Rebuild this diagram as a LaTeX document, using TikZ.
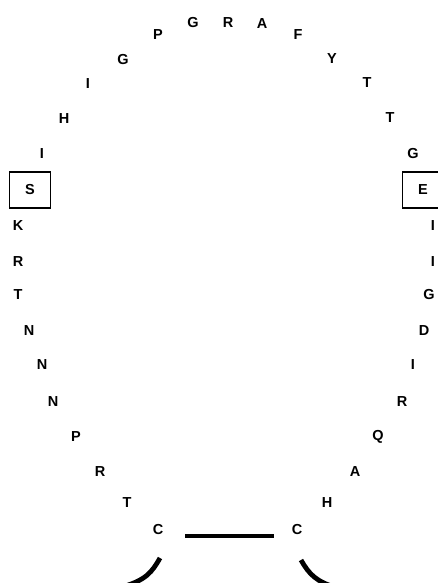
\documentclass[tikz,border=0pt]{standalone}
\usepackage{fontspec}
\setmainfont{Liberation Sans}
\begin{document}
\begin{tikzpicture}[x=1pt, y=-1pt,
    res/.style={font=\bfseries\fontsize{14.5}{14.5}\selectfont, inner sep=2pt},
    boxres/.style={res, draw, line width=1.2pt, minimum width=41pt, minimum height=36pt},
    bond/.style={line width=4.8pt}]
    % --- 画布大小 ---
    \useasboundingbox (0,0) rectangle (438,583);
    \clip (0,0) rectangle (438,583);

    % --- 环上的残基 (从左下 C 开始, 顺时针) ---
    \foreach \aa/\x/\y/\st [count=\i] in {
        C/158/530/res, T/127/503/res, R/100/472/res, P/76/437/res,
        N/53/402/res, N/42/365/res, N/29/331/res, T/18/295/res,
        R/18/262/res, K/18/226/res, S/30/190/boxres, I/42/154/res,
        H/64/119/res, I/88/84/res, G/123/60/res, P/158/35/res,
        G/193/23/res, R/228/23/res, A/262/24/res, F/298/35/res,
        Y/332/59/res, T/367/83/res, T/390/118/res, G/413/154/res,
        E/423/190/boxres, I/433/226/res, I/433/262/res, G/429/295/res,
        D/424/331/res, I/413/365/res, R/402/402/res, Q/378/437/res,
        A/355/472/res, H/327/503/res, C/297/530/res}
        \node[\st] (r\i) at (\x,\y) {\aa};

    % --- 二硫键 ---
    \draw[bond] ([shift={(27,6)}]r1.center) -- ([shift={(-23,6)}]r35.center);

    % --- 向下延伸的两条链 ---
    \coordinate (tailL) at (118,588);
    \coordinate (tailR) at (338,588);
    \draw[bond] ([shift={(2,28)}]r1.center) .. controls (152,572) and (146,581) .. (tailL);
    \draw[bond] ([shift={(4,30)}]r35.center) .. controls (309,574) and (316,582) .. (tailR);
\end{tikzpicture}
\end{document}
